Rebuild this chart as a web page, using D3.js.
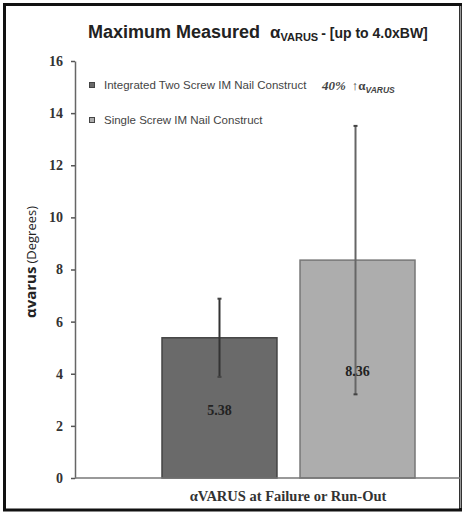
<!DOCTYPE html>
<html>
<head>
<meta charset="utf-8">
<script src="https://cdn.jsdelivr.net/npm/d3@7"></script>
<style>
  body { margin: 0; background: #fff; }
</style>
</head>
<body>
<div id="chart"></div>
<script>
// chart data
var groups = ["Integrated Two Screw IM Nail Construct", "Single Screw IM Nail Construct"];
var values = [5.38, 8.36];
var errors = [1.5, 5.15];
var barColors = ["#6a6a6a", "#adadad"];
var yTicks = [0, 2, 4, 6, 8, 10, 12, 14, 16];

var W = 462, H = 515;
var margin = {top: 61, right: 2, bottom: 37, left: 75};

var svg = d3.select("#chart")
  .append("svg")
  .attr("width", W)
  .attr("height", H);

// outer frame
svg.append("rect")
  .attr("x", 4.5).attr("y", 4.5)
  .attr("width", 456).attr("height", 505.5)
  .attr("fill", "#fff")
  .attr("stroke", "#111")
  .attr("stroke-width", 3);
svg.append("line")
  .attr("x1", 460.5).attr("x2", 460.5)
  .attr("y1", 6).attr("y2", 508)
  .attr("stroke", "#999").attr("stroke-width", 1.5);

var y = d3.scaleLinear()
  .domain([0, 16])
  .range([478, margin.top]);

var x = d3.scaleBand()
  .domain(groups)
  .range([162, 415])
  .paddingInner(0.167)
  .paddingOuter(0);

// y axis
var yAxis = svg.append("g")
  .attr("transform", "translate(" + margin.left + ",0)")
  .call(d3.axisLeft(y).tickValues(yTicks).tickSize(4).tickSizeOuter(0).tickPadding(8));
yAxis.attr("font-family", "Liberation Serif, serif")
  .attr("font-size", 14)
  .attr("font-weight", "bold");
yAxis.select(".domain").attr("stroke", "#666").attr("stroke-width", 1.5);
yAxis.selectAll(".tick line").attr("stroke", "#555").attr("stroke-width", 1.5);
yAxis.selectAll("text").attr("fill", "#333");

// bars
svg.selectAll(".bar")
  .data(values)
  .enter()
  .append("rect")
    .attr("class", "bar")
    .attr("x", function(d, i) { return x(groups[i]); })
    .attr("y", function(d) { return y(d); })
    .attr("width", x.bandwidth())
    .attr("height", function(d) { return y(0) - y(d); })
    .attr("fill", function(d, i) { return barColors[i]; })
    .attr("stroke", function(d, i) { return i == 0 ? "#444" : "#777"; })
    .attr("stroke-width", 1.5);

// x axis line
svg.append("line")
  .attr("x1", margin.left).attr("x2", 460)
  .attr("y1", y(0)).attr("y2", y(0))
  .attr("stroke", "#777").attr("stroke-width", 1.5);

// error bars
var errX = function(i) { return x(groups[i]) + x.bandwidth() / 2 + (i == 0 ? 0 : -2); };
svg.selectAll(".err")
  .data(values)
  .enter()
  .append("line")
    .attr("class", "err")
    .attr("x1", function(d, i) { return errX(i); })
    .attr("x2", function(d, i) { return errX(i); })
    .attr("y1", function(d, i) { return y(d + errors[i]); })
    .attr("y2", function(d, i) { return y(d - errors[i]); })
    .attr("stroke", function(d, i) { return i == 0 ? "#333" : "#666"; })
    .attr("stroke-width", 2);
svg.selectAll(".errcap")
  .data(values.concat(values))
  .enter()
  .append("line")
    .attr("x1", function(d, i) { return errX(i % 2) - 2; })
    .attr("x2", function(d, i) { return errX(i % 2) + 2; })
    .attr("y1", function(d, i) { var k = i % 2; return i < 2 ? y(d + errors[k]) : y(d - errors[k]); })
    .attr("y2", function(d, i) { var k = i % 2; return i < 2 ? y(d + errors[k]) : y(d - errors[k]); })
    .attr("stroke", "#444").attr("stroke-width", 2);

// value labels
svg.selectAll(".val")
  .data(values)
  .enter()
  .append("text")
    .attr("x", function(d, i) { return x(groups[i]) + x.bandwidth() / 2; })
    .attr("y", function(d, i) { return i == 0 ? 415 : 376; })
    .attr("text-anchor", "middle")
    .attr("font-family", "Liberation Serif, Times New Roman, serif")
    .attr("font-weight", "bold")
    .attr("font-size", "14px")
    .attr("fill", "#222")
    .text(function(d) { return d.toFixed(2); });

// title
var title = svg.append("text")
  .attr("x", 88).attr("y", 38)
  .attr("font-family", "Liberation Sans, Arial, sans-serif")
  .attr("font-weight", "bold")
  .attr("fill", "#222");
title.append("tspan").attr("font-size", "18px").text("Maximum Measured");
title.append("tspan").attr("dx", 10).attr("font-size", "17px").text("α");
title.append("tspan").attr("dy", 3).attr("font-size", "11px").text("VARUS");
title.append("tspan").attr("dy", -3).attr("dx", 3).attr("font-size", "14px").text("- [up to 4.0xBW]");

// legend
var legend = svg.selectAll(".leg")
  .data(groups)
  .enter()
  .append("g")
  .attr("transform", function(d, i) { return "translate(92," + (85 + i * 35) + ")"; });
legend.append("rect")
  .attr("x", -2.5).attr("y", -2.5).attr("width", 5).attr("height", 5)
  .attr("fill", function(d, i) { return barColors[i]; })
  .attr("stroke", "#444").attr("stroke-width", 1);
legend.append("text")
  .attr("x", 12).attr("y", 4)
  .attr("font-family", "Liberation Sans Narrow, Arial Narrow, Liberation Sans, sans-serif")
  .attr("font-size", "11.5px")
  .attr("fill", "#444")
  .text(function(d) { return d; });

var note = svg.append("text")
  .attr("x", 322).attr("y", 90)
  .attr("font-family", "Liberation Serif, Times New Roman, serif")
  .attr("font-style", "italic")
  .attr("font-weight", "bold")
  .attr("font-size", "13px")
  .attr("fill", "#444");
note.append("tspan").text("40%");
note.append("tspan").attr("dx", 6).attr("font-style", "normal").text("↑α");
note.append("tspan").attr("dy", 3).attr("font-size", "8.5px").attr("font-family", "Liberation Sans, sans-serif").text("VARUS");

// y axis label
var ylab = svg.append("text")
  .attr("transform", "translate(36,262) rotate(-90)")
  .attr("text-anchor", "middle")
  .attr("font-family", "Open Sans, Liberation Sans, sans-serif")
  .attr("font-size", "13px")
  .attr("fill", "#222");
ylab.append("tspan").attr("font-weight", "bold").attr("font-size", "15px").text("αvarus");
ylab.append("tspan").attr("dx", 3).text("(Degrees)");

// x axis label
svg.append("text")
  .attr("x", 288).attr("y", 501)
  .attr("text-anchor", "middle")
  .attr("font-family", "Liberation Serif, Times New Roman, serif")
  .attr("font-weight", "bold")
  .attr("font-size", "14.5px")
  .attr("fill", "#333")
  .text("αVARUS at Failure or Run-Out");
</script>
</body>
</html>
